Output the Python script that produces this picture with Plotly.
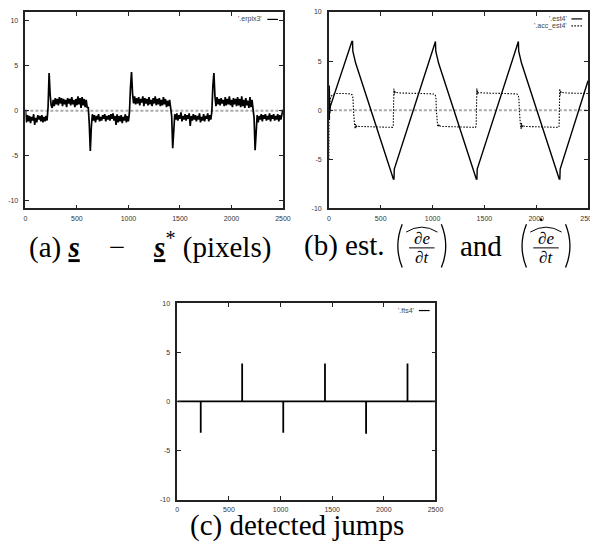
import plotly.graph_objects as go

# page body has an 8px default margin, so the figure is drawn 8px in from the top-left
OFF = 8
W, H = 598 - OFF, 544 - OFF

# ---------------- data ----------------
# (a) '.erpix3'  (sampled every 10 steps)
erpix_t = list(range(0, 2501, 10))
erpix = [
    0.1, -1.3, -0.5, -1.2, -0.6, -1.4, -0.7, -1.1, -0.4, -1.6,
    -0.8, -1.3, -0.5, -1.0, -0.6, -1.2, -0.5, -1.3, -0.7, -1.2,
    -0.6, -1.1, 0.4, 4.2, 1.8, 0.6, 0.3, 1.2, 0.5, 1.4,
    0.7, 1.3, 0.6, 1.5, 0.8, 1.4, 0.5, 1.3, 0.7, 1.2,
    0.4, 1.4, 0.8, 1.3, 0.6, 1.5, 0.7, 1.2, 0.4, 1.3,
    0.6, 1.6, 0.7, 1.4, 0.3, 1.5, 0.6, 1.3, 0.4, 1.2,
    0.3, 0.4, -1.5, -4.5, -1.8, -0.4, -1.1, -0.5, -1.3, -0.6,
    -1.0, -0.4, -1.2, -0.7, -1.1, -0.5, -0.9, -0.4, -1.2, -0.6,
    -1.0, -0.5, -1.1, -0.4, -0.9, -0.3, -1.1, -0.6, -1.6, -0.4,
    -1.3, -0.6, -1.2, -0.5, -1.4, -0.7, -1.1, -0.4, -1.3, -0.6,
    -1.2, -0.2, 2.6, 4.3, 1.9, 0.8, 1.6, 0.7, 1.4, 0.8,
    1.5, 0.6, 1.3, 0.9, 1.6, 0.5, 1.4, 0.8, 1.3, 0.6,
    1.5, 0.7, 1.2, 0.5, 1.4, 0.8, 1.6, 0.6, 1.3, 0.7,
    1.4, 0.5, 1.2, 0.6, 1.5, 0.7, 1.3, 0.4, 1.1, 0.5,
    1.2, 0.3, -0.6, -4.2, -1.7, -0.4, -1.0, -0.3, -1.1, -0.5,
    -0.9, -0.2, -1.2, -0.6, -1.0, -0.4, -1.1, -0.5, -0.9, -0.3,
    -1.7, -0.6, -1.1, -0.4, -1.0, -0.5, -1.2, -0.6, -1.0, -0.3,
    -1.3, -0.7, -1.1, -0.4, -1.2, -0.6, -0.9, -0.3, -1.2, -0.5,
    -1.0, -0.1, 2.8, 4.2, 1.6, 0.5, 1.5, 0.7, 1.3, 0.6,
    1.4, 0.8, 1.2, 0.5, 1.5, 0.6, 1.3, 0.7, 1.6, 0.6,
    1.2, 0.4, 1.4, 0.7, 1.3, 0.5, 1.5, 0.6, 1.3, 0.4,
    1.6, 0.5, 1.2, 0.3, 1.4, 0.6, 1.1, 0.3, 1.5, 0.4,
    1.2, 0.3, -0.8, -4.4, -1.6, -0.5, -1.3, -0.6, -1.0, -0.4,
    -1.2, -0.5, -0.9, -0.4, -1.1, -0.6, -1.0, -0.3, -1.2, -0.5,
    -0.9, -0.4, -1.1, -0.6, -1.0, -0.4, -1.2, -0.5, -1.0, -0.3,
    0.1,
]
assert len(erpix) == len(erpix_t)

# (b) '.est4'
est_t = [0, 4, 8, 14, 222, 228, 231, 254, 258, 622, 628, 631, 1022, 1028, 1031,
         1054, 1058, 1422, 1428, 1431, 1822, 1828, 1831, 1854, 1858, 2222, 2228,
         2231, 2500]
est = [0.3, 2.5, -0.3, 0.4, 7.0, 7.0, 6.0, 5.2, 4.8, -7.0, -7.0, -6.0, 7.0, 7.0,
       6.0, 5.2, 4.8, -7.0, -7.0, -6.0, 7.0, 7.0, 6.0, 5.2, 4.8, -7.0, -7.0,
       -6.0, 3.0]
assert len(est) == len(est_t)

# (b) '.acc_est4'
acc_t = [0, 3, 6, 10, 20, 40, 70, 150,
         215, 226, 233, 237, 241, 248, 254, 258, 263, 270, 285,
         400, 500, 615, 621, 624, 627, 631, 635, 640, 650, 700, 900,
         1015, 1026, 1033, 1037, 1041, 1048, 1054, 1058, 1063, 1070, 1085,
         1200, 1300, 1415, 1421, 1424, 1427, 1431, 1435, 1440, 1450, 1500, 1700,
         1815, 1826, 1833, 1837, 1841, 1848, 1854, 1858, 1863, 1870, 1885,
         2000, 2100, 2215, 2221, 2224, 2227, 2231, 2235, 2240, 2250, 2300, 2500]
acc = [-5.0, 2.5, -1.0, 1.0, 1.4, 1.6, 1.7, 1.7,
       1.65, 1.55, 1.2, 0.0, -1.3, -1.5, -1.9, -1.4, -1.8, -1.6, -1.65,
       -1.7, -1.75, -1.75, -1.6, 0.0, 2.2, 1.6, 2.0, 1.75, 1.8, 1.75, 1.7,
       1.65, 1.55, 1.2, 0.0, -1.3, -1.5, -1.7, -1.4, -1.7, -1.6, -1.65,
       -1.7, -1.75, -1.75, -1.6, 0.0, 2.2, 1.6, 2.0, 1.75, 1.8, 1.75, 1.7,
       1.65, 1.55, 1.2, 0.0, -1.3, -1.5, -1.9, -1.3, -1.8, -1.5, -1.65,
       -1.7, -1.75, -1.75, -1.6, 0.0, 2.2, 1.5, 2.0, 1.75, 1.8, 1.75, 1.7]
assert len(acc) == len(acc_t)

# (c) '.fts4' detected jumps
jump_pos = [227, 628, 1026, 1430, 1828, 2229]
jump_amp = [-3.2, 3.85, -3.2, 3.85, -3.3, 3.85]

x_ticks = [0, 500, 1000, 1500, 2000, 2500]
y_ticks = [-10, -5, 0, 5, 10]


# ---------------- helpers (window pixels -> paper) ----------------
def px(x):
    return (x - OFF) / W


def py(y):
    return 1 - (y - OFF) / H


jx, jy = [0], [0]
for p, a in zip(jump_pos, jump_amp):
    jx += [p, p, p]
    jy += [0, a, 0]
jx.append(2500)
jy.append(0)

fig = go.Figure()
fig.add_trace(go.Scatter(x=erpix_t, y=erpix, mode="lines", xaxis="x", yaxis="y",
                         line=dict(color="black", width=1.7), showlegend=False))
fig.add_trace(go.Scatter(x=est_t, y=est, mode="lines", xaxis="x2", yaxis="y2",
                         line=dict(color="black", width=1.4), showlegend=False))
fig.add_trace(go.Scatter(x=acc_t, y=acc, mode="lines", xaxis="x2", yaxis="y2",
                         line=dict(color="black", width=1.1, dash="1.5px,1.5px"),
                         showlegend=False))
fig.add_trace(go.Scatter(x=jx, y=jy, mode="lines", xaxis="x3", yaxis="y3",
                         line=dict(color="black", width=1.8), showlegend=False))

tickfont = dict(family="Liberation Sans, Arial, sans-serif", size=7, color="#333")


def xax(d0, d1, anchor):
    return dict(domain=[px(d0), px(d1)], range=[0, 2500], tickvals=x_ticks,
                ticktext=[str(v) for v in x_ticks], anchor=anchor,
                showline=True, mirror="allticks", linecolor="#222", linewidth=1.5,
                ticks="inside", ticklen=4, tickcolor="#222", tickwidth=1,
                tickfont=tickfont, showgrid=False, zeroline=False, ticklabelstandoff=2)


def yax(top, bottom, rng, anchor):
    return dict(domain=[max(0, py(bottom)), min(1, py(top))], range=rng, tickvals=y_ticks,
                ticktext=[str(v) for v in y_ticks], anchor=anchor,
                showline=True, mirror="allticks", linecolor="#222", linewidth=1.5,
                ticks="inside", ticklen=4, tickcolor="#222", tickwidth=1,
                tickfont=tickfont, showgrid=False, zeroline=False, ticklabelstandoff=4)


shapes = []
annotations = []

# zero axes (gray dashed)
for xr, yr in (("x", "y"), ("x2", "y2")):
    shapes.append(dict(type="line", xref=xr + " domain", yref=yr, x0=0, x1=1, y0=0, y1=0,
                       line=dict(color="#aaa", width=2, dash="3px,2px"), layer="below"))

legfont = dict(family="Liberation Sans, Arial, sans-serif", size=7, color="#444")


def legend_key(text, x_text_right, y, x0, x1, dash="solid"):
    annotations.append(dict(text=text, xref="paper", yref="paper", x=px(x_text_right),
                            y=py(y), xanchor="right", yanchor="middle", showarrow=False,
                            font=legfont))
    shapes.append(dict(type="line", xref="paper", yref="paper", x0=px(x0), x1=px(x1),
                       y0=py(y), y1=py(y), line=dict(color="black", width=1.2, dash=dash)))


legend_key("'.erpix3'", 265, 15.5, 268, 279)
legend_key("'.est4'", 577, 15, 579, 590)
legend_key("'.acc_est4'", 577, 22, 579, 590, dash="1.5px,1.5px")
legend_key("'.fts4'", 420, 310.5, 423, 434)

capfont = dict(family="Liberation Serif, serif", size=29, color="black")
mathfont = dict(family="Liberation Serif, serif", size=17, color="black")

CAP_Y = 245
U = "<span style='text-decoration:underline'><b><i>s</i></b></span>"
annotations.append(dict(text="(a) " + U + "\u2003\u2212\u2003" + U + "<sup>*</sup> (pixels)",
                        xref="paper", yref="paper", x=px(148), y=py(CAP_Y),
                        xanchor="center", yanchor="middle", showarrow=False, font=capfont))
annotations.append(dict(text="(b) est.", xref="paper", yref="paper", x=px(304), y=py(CAP_Y),
                        xanchor="left", yanchor="middle", showarrow=False, font=capfont))
annotations.append(dict(text="and", xref="paper", yref="paper", x=px(487), y=py(CAP_Y),
                        xanchor="center", yanchor="middle", showarrow=False, font=capfont))


def frac_group(c, dot=False):
    d = CAP_Y - 241
    # parentheses
    shapes.append(dict(type="path", xref="paper", yref="paper",
                       path=f"M {px(c-20)},{py(219+d)} Q {px(c-29)},{py(241+d)} {px(c-20)},{py(263+d)}",
                       line=dict(color="black", width=1.3)))
    shapes.append(dict(type="path", xref="paper", yref="paper",
                       path=f"M {px(c+20)},{py(219+d)} Q {px(c+29)},{py(241+d)} {px(c+20)},{py(263+d)}",
                       line=dict(color="black", width=1.3)))
    # wide hat
    shapes.append(dict(type="path", xref="paper", yref="paper",
                       path=f"M {px(c-16)},{py(227+d)} Q {px(c)},{py(217+d)} {px(c+16)},{py(227+d)}",
                       line=dict(color="black", width=1)))
    # fraction bar
    shapes.append(dict(type="line", xref="paper", yref="paper", x0=px(c-13), x1=px(c+13),
                       y0=py(243+d), y1=py(243+d), line=dict(color="black", width=1)))
    annotations.append(dict(text="<i>\u2202e</i>", xref="paper", yref="paper", x=px(c),
                            y=py(234+d), xanchor="center", yanchor="middle", showarrow=False,
                            font=mathfont))
    annotations.append(dict(text="<i>\u2202t</i>", xref="paper", yref="paper", x=px(c),
                            y=py(253+d), xanchor="center", yanchor="middle", showarrow=False,
                            font=mathfont))
    if dot:
        shapes.append(dict(type="circle", xref="paper", yref="paper",
                           x0=px(c-6.3), x1=px(c-3.7), y0=py(213.3+d), y1=py(215.9+d),
                           fillcolor="black", line=dict(width=0)))


frac_group(426)
frac_group(553, dot=True)

annotations.append(dict(text="(c) detected jumps", xref="paper", yref="paper", x=px(298),
                        y=py(528), xanchor="center", yanchor="middle", showarrow=False,
                        font=capfont))

fig.update_layout(
    width=W, height=H, autosize=False,
    margin=dict(l=0, r=0, t=0, b=0),
    paper_bgcolor="white", plot_bgcolor="white",
    showlegend=False,
    xaxis=xax(20.7, 284, "y"),
    yaxis=yax(8, 207, [-10.9, 11.0], "x"),
    xaxis2=xax(331, 596, "y2"),
    yaxis2=yax(8, 207, [-10, 10], "x2"),
    xaxis3=xax(176, 440, "y3"),
    yaxis3=yax(303, 502, [-10, 10], "x3"),
    shapes=shapes,
    annotations=annotations,
)

fig.write_html("out.html")
